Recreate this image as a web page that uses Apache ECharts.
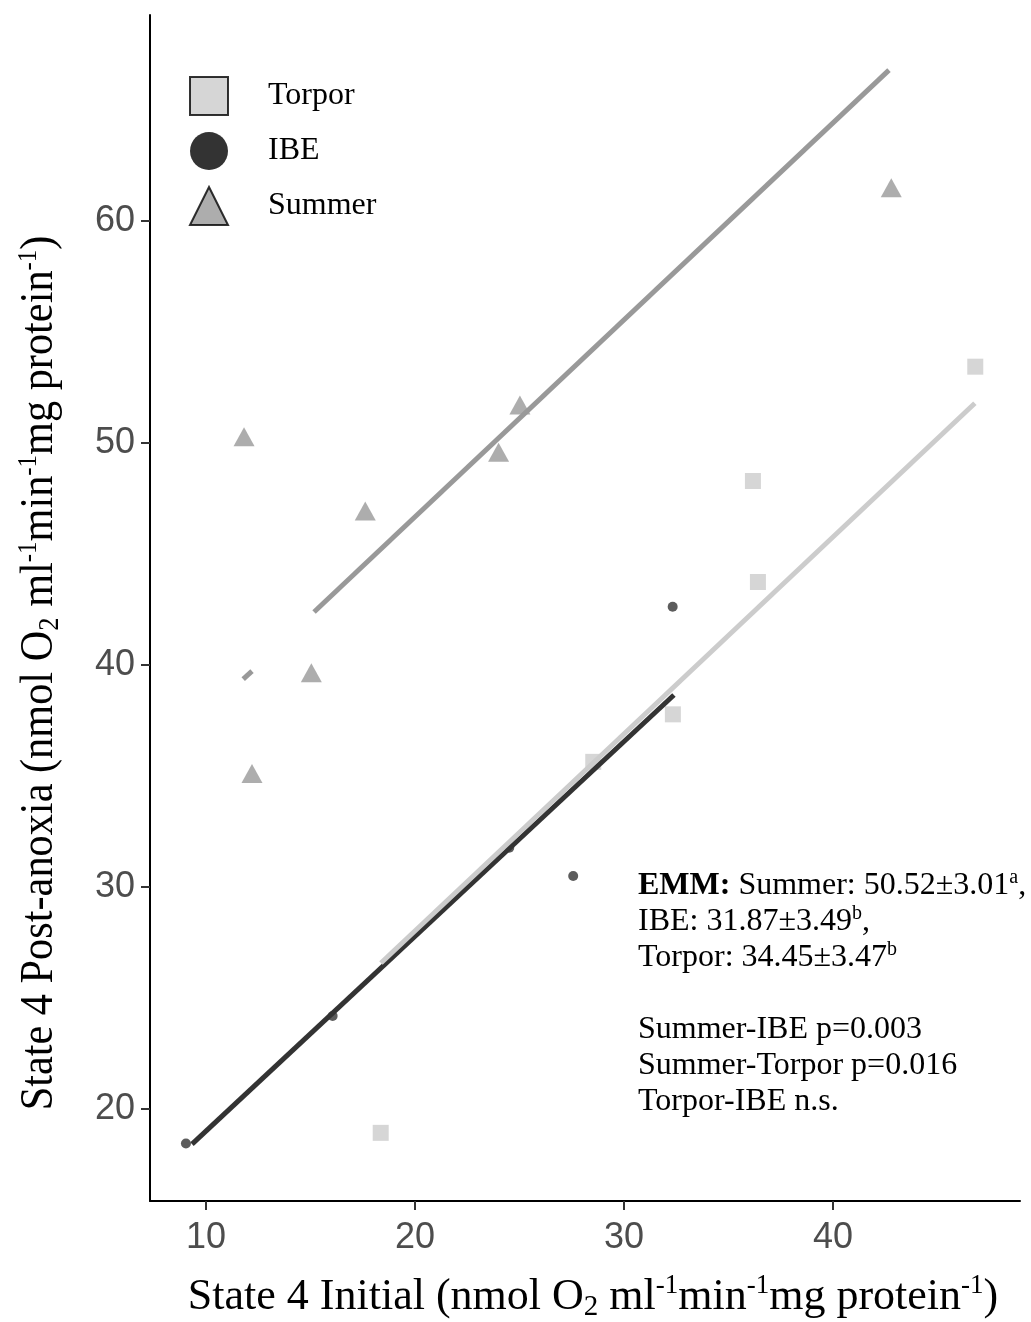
<!DOCTYPE html>
<html>
<head>
<meta charset="utf-8">
<script src="https://cdn.jsdelivr.net/npm/echarts@6/dist/echarts.min.js"></script>
<style>
  html, body { margin: 0; padding: 0; background: #fff; }
  #chart { width: 1031px; height: 1322px; }
</style>
</head>
<body>
<div id="chart"></div>
<script>
// points
var summerX = [11.82, 17.62, 24.0, 25.02, 15.04, 12.2, 42.79];
var summerY = [50.28, 46.94, 49.58, 51.71, 39.65, 35.12, 61.5];
var torporX = [46.81, 36.17, 36.41, 32.34, 28.53, 18.36];
var torporY = [53.44, 48.29, 43.74, 37.78, 35.64, 18.93];
var ibeX = [9.04, 16.06, 24.51, 27.57, 32.33];
var ibeY = [18.45, 24.19, 31.77, 30.5, 42.63];

// fitted lines (end points)
var summerFitX = [15.17, 42.68];
var summerFitY = [42.39, 66.8];
var torporFitX = [18.37, 46.79];
var torporFitY = [26.58, 51.79];
var ibeFitX = [9.33, 32.39];
var ibeFitY = [18.42, 38.65];
// small stray summer segment
var stubX = [11.78, 12.2];
var stubY = [39.37, 39.73];

var xTicks = [10, 20, 30, 40];
var yTicks = [20, 30, 40, 50, 60];

var serif = 'Liberation Serif';
var sans = 'Liberation Sans';

function pairs(xs, ys) {
  return xs.map(function (x, i) { return [x, ys[i]]; });
}

var myChart = echarts.init(document.getElementById('chart'));

var titleRich = {
  sub: { fontFamily: serif, fontSize: 29, lineHeight: 26, verticalAlign: 'bottom', color: '#000' },
  sup: { fontFamily: serif, fontSize: 27, lineHeight: 26, verticalAlign: 'top', color: '#000' }
};
var titleTail = ' (nmol O{sub|2} ml{sup|-1}min{sup|-1}mg protein{sup|-1})';

var option = {
  animation: false,
  backgroundColor: '#fff',
  grid: { left: 150, top: 15, right: 11, bottom: 121, containLabel: false },
  legend: {
    orient: 'vertical',
    left: 184,
    top: 71,
    itemWidth: 38,
    itemHeight: 38,
    itemGap: 16,
    selectedMode: false,
    textStyle: { fontFamily: serif, fontSize: 32, color: '#000', padding: [0, 0, 0, 35] },
    data: [
      { name: 'Torpor', icon: 'rect', itemStyle: { color: '#cccccc', borderColor: '#000', borderWidth: 2 } },
      { name: 'IBE', icon: 'circle', itemStyle: { color: '#000000', borderColor: '#000', borderWidth: 0 } },
      { name: 'Summer', icon: 'triangle', itemStyle: { color: '#999999', borderColor: '#000', borderWidth: 2 } }
    ]
  },
  xAxis: {
    type: 'value',
    min: 7.32,
    max: 48.95,
    axisLine: { show: true, lineStyle: { color: '#000', width: 2 } },
    axisTick: { show: true, customValues: xTicks, length: 9, lineStyle: { color: '#333', width: 2 } },
    axisLabel: { customValues: xTicks, fontFamily: sans, fontSize: 36, color: '#4d4d4d', margin: 19 },
    splitLine: { show: false }
  },
  yAxis: {
    type: 'value',
    min: 15.86,
    max: 69.28,
    axisLine: { show: true, lineStyle: { color: '#000', width: 2 } },
    axisTick: { show: true, customValues: yTicks, length: 9, lineStyle: { color: '#333', width: 2 } },
    axisLabel: { customValues: yTicks, fontFamily: sans, fontSize: 36, color: '#4d4d4d', margin: 15 },
    splitLine: { show: false }
  },
  series: [
    {
      name: 'Summer', type: 'scatter', symbol: 'triangle', symbolSize: [21, 19],
      itemStyle: { color: '#999999' }, data: pairs(summerX, summerY)
    },
    {
      name: 'Torpor', type: 'scatter', symbol: 'rect', symbolSize: 16,
      itemStyle: { color: '#cccccc' }, data: pairs(torporX, torporY)
    },
    {
      name: 'IBE', type: 'scatter', symbol: 'circle', symbolSize: 10,
      itemStyle: { color: '#333333' }, data: pairs(ibeX, ibeY)
    },
    {
      name: 'Summer fit', type: 'line', symbol: 'none', data: pairs(summerFitX, summerFitY),
      lineStyle: { color: '#999999', width: 5 }
    },
    {
      name: 'Summer stub', type: 'line', symbol: 'none', data: pairs(stubX, stubY),
      lineStyle: { color: '#999999', width: 5 }
    },
    {
      name: 'IBE fit', type: 'line', symbol: 'none', data: pairs(ibeFitX, ibeFitY),
      lineStyle: { color: '#333333', width: 5 }
    },
    {
      name: 'Torpor fit', type: 'line', symbol: 'none', data: pairs(torporFitX, torporFitY),
      lineStyle: { color: '#cccccc', width: 5 }
    }
  ],
  graphic: [
    {
      type: 'text', x: 40, y: 673, rotation: Math.PI / 2, scaleX: 0.92,
      style: {
        text: 'State 4 Post-anoxia' + titleTail,
        fontFamily: serif, fontSize: 46, lineHeight: 50, fill: '#000',
        align: 'center', verticalAlign: 'middle', rich: titleRich
      }
    },
    {
      type: 'text', x: 593, y: 1297,
      style: {
        text: 'State 4 Initial' + titleTail,
        fontFamily: serif, fontSize: 44, lineHeight: 50, fill: '#000',
        align: 'center', verticalAlign: 'middle', rich: titleRich
      }
    },
    {
      type: 'text', x: 638, y: 868,
      style: {
        text: '{b|EMM:} Summer: 50.52±3.01{sup|a},\nIBE: 31.87±3.49{sup|b},\nTorpor: 34.45±3.47{sup|b}\n\nSummer-IBE p=0.003\nSummer-Torpor p=0.016\nTorpor-IBE n.s.',
        fontFamily: serif, fontSize: 32, lineHeight: 36, fill: '#000',
        align: 'left', verticalAlign: 'top',
        rich: {
          b: { fontFamily: serif, fontSize: 32, lineHeight: 36, fontWeight: 'bold', color: '#000' },
          sup: { fontFamily: serif, fontSize: 20, lineHeight: 20, verticalAlign: 'top', color: '#000' }
        }
      }
    }
  ]
};

myChart.setOption(option);
</script>
</body>
</html>
